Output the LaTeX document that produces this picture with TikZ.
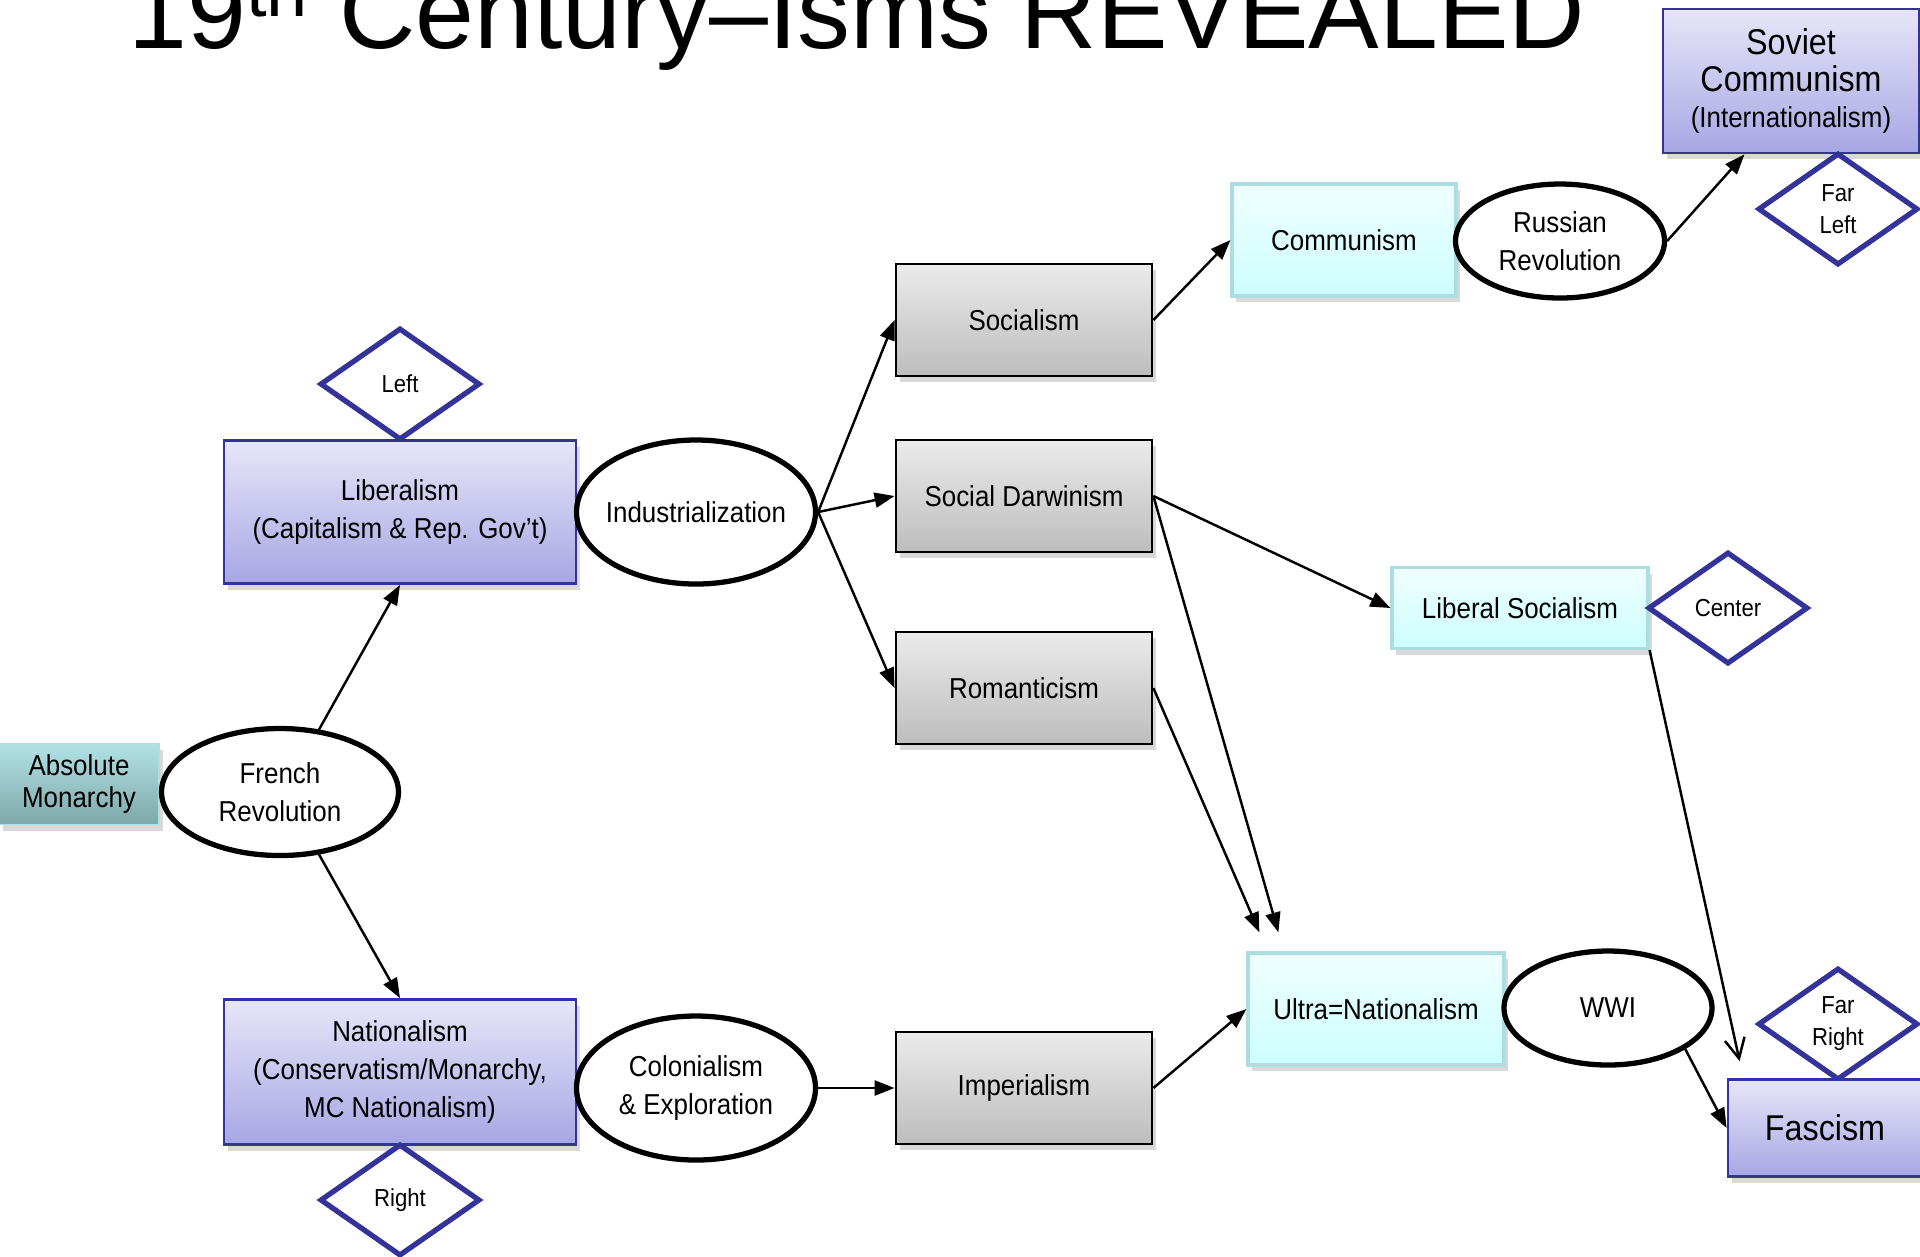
\documentclass[tikz,border=0pt]{standalone}
\usepackage{fontspec}
\setmainfont{Liberation Sans}[FakeStretch=0.9]
\newfontfamily\titlefont{Liberation Sans}
\usetikzlibrary{arrows.meta,shapes.geometric,shadows,calc}

\definecolor{lavtop}{HTML}{E6E6F8}
\definecolor{lavbot}{HTML}{A8A6E4}
\definecolor{navyline}{HTML}{33339A}
\definecolor{greytop}{HTML}{EBEBEB}
\definecolor{greybot}{HTML}{BDBDBD}
\definecolor{cyantop}{HTML}{F0FFFF}
\definecolor{cyanbot}{HTML}{CCFEFE}
\definecolor{cyanline}{HTML}{ACDDE0}
\definecolor{tealtop}{HTML}{B2E2E6}
\definecolor{tealbot}{HTML}{7EA8A8}

\begin{document}
\begin{tikzpicture}[x=0.1mm,y=-0.1mm,
  box/.style={rectangle,inner sep=0pt,align=center,minimum width=25.6mm,minimum height=11.2mm,
    font=\fontsize{8.2}{10.8}\selectfont,
    drop shadow={shadow xshift=0.35mm,shadow yshift=-0.6mm,opacity=0.3}},
  lavbox/.style={box,draw=navyline,line width=0.8pt,top color=lavtop,bottom color=lavbot},
  greybox/.style={box,draw=black,line width=0.8pt,top color=greytop,bottom color=greybot},
  cyanbox/.style={box,draw=cyanline,line width=0.9pt,top color=cyantop,bottom color=cyanbot},
  tealbox/.style={box,draw=cyanline!70!tealtop,line width=0.5pt,top color=tealtop,bottom color=tealbot},
  event/.style={ellipse,draw,line width=1.5pt,fill=white,inner ysep=0pt,inner xsep=-1.5mm,align=center,
    font=\fontsize{8.2}{10.8}\selectfont},
  wing/.style={diamond,draw=navyline,line width=1.5pt,fill=white,inner sep=0pt,
    minimum width=16mm,minimum height=11.2mm,align=center,font=\fontsize{7}{9.1}\selectfont},
  flow/.style={-{Triangle[length=2mm,width=1.5mm]},line width=0.7pt},
  openflow/.style={-{Straight Barb[length=2mm,width=2mm]},line width=0.7pt}]
  \useasboundingbox (0,0) rectangle (1920,1256);

  % title, cut at the top
  \node[font=\titlefont\fontsize{30.1}{36}\selectfont,anchor=base] (title) at (857,48)
    {19\textsuperscript{th} Century–Isms REVEALED};

  % left part
  \node[tealbox,minimum width=16mm,minimum height=8.1mm,font=\fontsize{8.2}{9.3}\selectfont] (absmon) at (79,784)
    {Absolute\\Monarchy};
  \node[event,minimum width=23.7mm,minimum height=12.7mm] (frev) at (280,792) {French\\Revolution};
  \node[lavbox,minimum width=35.2mm,minimum height=14.3mm] (lib) at (400,512)
    {Liberalism\\(Capitalism \& Rep. Gov’t)};
  \node[wing] (left) at (400,384) {Left};
  \node[lavbox,minimum width=35.2mm,minimum height=14.5mm] (nat) at (400,1072)
    {Nationalism\\(Conservatism/Monarchy,\\MC Nationalism)};
  \node[wing] (right) at (400,1200) {Right};
  \node[event,minimum width=23.9mm,minimum height=14.4mm] (ind) at (696,512) {Industrialization};
  \node[event,minimum width=23.9mm,minimum height=14.4mm] (colon) at (696,1088) {Colonialism\\\& Exploration};

  % middle column
  \node[greybox] (soc) at (1024,320) {Socialism};
  \node[greybox] (sdarw) at (1024,496) {Social Darwinism};
  \node[greybox] (rom) at (1024,688) {Romanticism};
  \node[greybox] (imp) at (1024,1088) {Imperialism};

  % right part
  \node[cyanbox,minimum width=22.4mm] (comm) at (1344,240) {Communism};
  \node[event,minimum width=20.9mm,minimum height=11.4mm] (rrev) at (1560,241) {Russian\\Revolution};
  \node[lavbox,minimum width=25.6mm,minimum height=14.4mm,font=\fontsize{10.2}{10.5}\selectfont] (soviet) at (1791,81)
    {Soviet\\Communism\\{\fontsize{8.2}{10.5}\selectfont(Internationalism)}};
  \node[wing] (farleft) at (1838,209) {Far\\Left};
  \node[cyanbox,minimum height=8.1mm] (libsoc) at (1520,608) {Liberal Socialism};
  \node[wing] (centre) at (1728,608) {Center};
  \node[cyanbox] (ultra) at (1376,1009) {Ultra=Nationalism};
  \node[event,minimum width=20.8mm,minimum height=11.4mm] (wwi) at (1608,1008) {WWI};
  \node[wing] (farright) at (1838,1024) {Far\\Right};
  \node[lavbox,minimum width=19.4mm,minimum height=9.7mm,font=\fontsize{10.2}{12.4}\selectfont] (fasc) at (1825,1128) {Fascism};

  % free arrow ends
  \coordinate (sovtip) at ($(soviet.south west)!0.32!(soviet.south east)$);
  \coordinate (ultratipA) at ($(ultra.north west)+(13,-19)$);
  \coordinate (ultratipB) at ($(ultra.north west)+(32,-19)$);
  \coordinate (fasctip) at ($(fasc.north west)+(13,-17)$);

  % connectors
  \draw[flow] (frev.58) -- (lib.south);
  \draw[flow] (frev.-58) -- (nat.north);
  \draw[flow] (ind.east) -- (soc.west);
  \draw[flow] (ind.east) -- (sdarw.west);
  \draw[flow] (ind.east) -- (rom.west);
  \draw[flow] (soc.east) -- (comm.west);
  \draw[flow] (rrev.east) -- (sovtip);
  \draw[flow] (sdarw.east) -- (libsoc.west);
  \draw[flow] (sdarw.east) -- (ultratipB);
  \draw[flow] (rom.east) -- (ultratipA);
  \draw[flow] (imp.east) -- (ultra.west);
  \draw[openflow] (libsoc.south east) -- (fasctip);
  \draw[flow] (wwi.-28) -- (fasc.west);
  \draw[flow] (colon.east) -- (imp.west);
\end{tikzpicture}
\end{document}
